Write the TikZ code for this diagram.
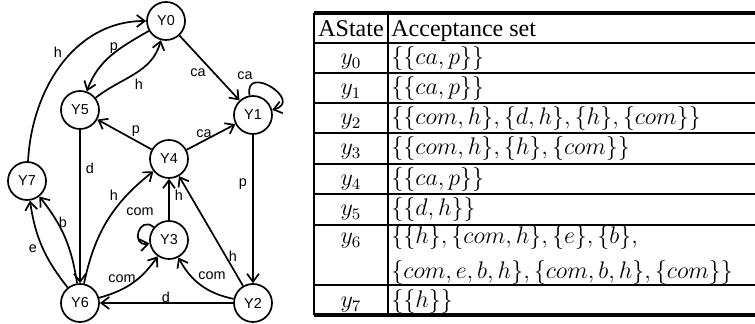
\documentclass[tikz,border=0pt]{standalone}
\usepackage{fontspec}
\setmainfont{Liberation Serif}
\newfontfamily\graphfont{Liberation Sans}
\usetikzlibrary{arrows.meta}

\begin{document}
\begin{tikzpicture}[x=0.5pt,y=-0.5pt,
  state/.style={draw,circle,line width=0.85pt,minimum size=19pt,inner sep=0pt,
    font=\graphfont\fontsize{7.2}{8}\selectfont},
  trans/.style={line width=0.85pt,-{Straight Barb[length=4pt,width=6pt]}},
  elabel/.style={inner sep=0pt,font=\graphfont\fontsize{7.2}{8}\selectfont},
  rule/.style={line width=1pt},
  outerrule/.style={line width=1.6pt},
  cell/.style={inner sep=0pt,anchor=base,font=\fontsize{12}{14}\selectfont},
  accell/.style={cell,anchor=base west}]
  \useasboundingbox (0,0) rectangle (755,324);
  % automate
  \node[state] (Y0) at (166,21) {Y0};
  \node[state] (Y1) at (253,115) {Y1};
  \node[state] (Y5) at (80,110) {Y5};
  \node[state] (Y4) at (169,159) {Y4};
  \node[state] (Y7) at (27,181) {Y7};
  \node[state] (Y3) at (169,240) {Y3};
  \node[state] (Y6) at (80,303) {Y6};
  \node[state] (Y2) at (253,303) {Y2};

  \draw[trans] (Y7) to[out=87,in=180] (Y0);
  \draw[trans] (Y0) to[out=-150,in=70] (Y5);
  \draw[trans] (Y5) to[out=38,in=-105] (Y0);
  \draw[trans] (Y0) -- (Y1);
  \draw[trans] (Y1) to[out=100,in=15,looseness=3.2] (Y1);
  \draw[trans] (Y4) -- (Y5);
  \draw[trans] (Y4) -- (Y1);
  \draw[trans] (Y5) -- (Y6);
  \draw[trans] (Y6) to[bend left=15] (Y7);
  \draw[trans] (Y6) to[bend right=15] (Y7);
  \draw[trans] (Y6) to[bend left=20] (Y4);
  \draw[trans] (Y3) -- (Y4);
  \draw[trans] (Y3) to[out=140,in=190,looseness=3] (Y3);
  \draw[trans] (Y6) to[bend right=20] (Y3);
  \draw[trans] (Y2) -- (Y6);
  \draw[trans] (Y2) to[bend left=25] (Y3);
  \draw[trans] (Y2) -- (Y4);
  \draw[trans] (Y1) -- (Y2);

  \node[elabel] (h70) at (58,52) {h};
  \node[elabel] (p05) at (114,48) {p};
  \node[elabel] (h50) at (139,84) {h};
  \node[elabel] (ca01) at (198,73) {ca};
  \node[elabel] (ca11) at (245,76) {ca};
  \node[elabel] (p45) at (136,131) {p};
  \node[elabel] (ca41) at (204,134) {ca};
  \node[elabel] (d56) at (90,168) {d};
  \node[elabel] (h64) at (114,195) {h};
  \node[elabel] (h34) at (179,195) {h};
  \node[elabel] (com33) at (140,212) {com};
  \node[elabel] (b67) at (63,222) {b};
  \node[elabel] (e67) at (33,249) {e};
  \node[elabel] (h24) at (233,256) {h};
  \node[elabel] (p12) at (243,184) {p};
  \node[elabel] (com63) at (122,279) {com};
  \node[elabel] (com23) at (212,276) {com};
  \node[elabel] (d26) at (166,297) {d};

  % tableau
  \foreach \ry in {43,73,103,133,164,194,225,285}
    \draw[rule] (314,\ry) -- (755,\ry);
  \draw[outerrule] (314,13) -- (755,13);
  \draw[outerrule] (314,315) -- (755,315);
  \draw[rule] (314,13) -- (314,315);
  \draw[rule] (388,13) -- (388,315);

  \node[cell] (hd1) at (351,37) {AState};
  \node[accell] (hd2) at (391,37) {Acceptance set};
  \node[cell] (s0) at (351,65) {$y_0$};
  \node[accell] (a0) at (391,65) {$\{\{ca,p\}\}$};
  \node[cell] (s1) at (351,95) {$y_1$};
  \node[accell] (a1) at (391,95) {$\{\{ca,p\}\}$};
  \node[cell] (s2) at (351,125) {$y_2$};
  \node[accell] (a2) at (391,125) {$\{\{com,h\},\{d,h\},\{h\},\{com\}\}$};
  \node[cell] (s3) at (351,155) {$y_3$};
  \node[accell] (a3) at (391,155) {$\{\{com,h\},\{h\},\{com\}\}$};
  \node[cell] (s4) at (351,186) {$y_4$};
  \node[accell] (a4) at (391,186) {$\{\{ca,p\}\}$};
  \node[cell] (s5) at (351,216) {$y_5$};
  \node[accell] (a5) at (391,216) {$\{\{d,h\}\}$};
  \node[cell] (s6) at (351,244) {$y_6$};
  \node[accell] (a6) at (391,244) {$\{\{h\},\{com,h\},\{e\},\{b\},$};
  \node[accell] (a6b) at (391,279) {$\{com,e,b,h\},\{com,b,h\},\{com\}\}$};
  \node[cell] (s7) at (351,308) {$y_7$};
  \node[accell] (a7) at (391,308) {$\{\{h\}\}$};
\end{tikzpicture}
\end{document}
